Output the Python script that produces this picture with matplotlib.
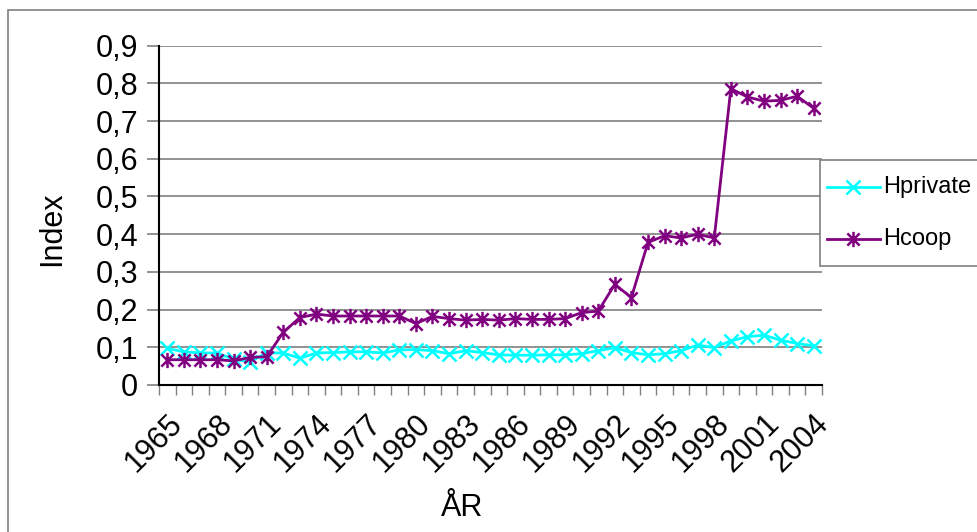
import matplotlib
matplotlib.use("Agg")
import matplotlib.pyplot as plt
from matplotlib.path import Path
from matplotlib.patches import Rectangle
from matplotlib.lines import Line2D
from matplotlib.ticker import FuncFormatter, FixedLocator
import numpy as np

plt.rcParams['font.family'] = ['Liberation Sans', 'DejaVu Sans']

years = list(range(1965, 2005))
hprivate = [0.097, 0.088, 0.085, 0.085, 0.068, 0.062, 0.085, 0.085, 0.071, 0.085,
            0.086, 0.088, 0.088, 0.085, 0.093, 0.094, 0.091, 0.083, 0.091, 0.086,
            0.080, 0.079, 0.079, 0.080, 0.080, 0.083, 0.091, 0.099, 0.086, 0.080,
            0.083, 0.091, 0.106, 0.099, 0.117, 0.128, 0.132, 0.119, 0.110, 0.104]
hcoop = [0.067, 0.067, 0.067, 0.067, 0.064, 0.073, 0.075, 0.140, 0.179, 0.188,
         0.183, 0.183, 0.183, 0.183, 0.183, 0.163, 0.182, 0.176, 0.172, 0.174,
         0.172, 0.176, 0.174, 0.174, 0.176, 0.192, 0.196, 0.267, 0.232, 0.378,
         0.396, 0.390, 0.400, 0.390, 0.786, 0.764, 0.753, 0.755, 0.766, 0.734]
series_names = ['Hprivate', 'Hcoop']
yticks = [0, 0.1, 0.2, 0.3, 0.4, 0.5, 0.6, 0.7, 0.8, 0.9]

W, H = 978, 532
fig = plt.figure(figsize=(W / 100, H / 100), dpi=100)
ax = fig.add_axes([159 / W, 1 - 385 / H, (822 - 159) / W, (385 - 45.7) / H])

star = Path([(-1, -1), (1, 1), (-1, 1), (1, -1), (0, -1.25), (0, 1.25)],
            [Path.MOVETO, Path.LINETO, Path.MOVETO, Path.LINETO, Path.MOVETO, Path.LINETO])

cyan, purple = '#00FFFF', '#800080'
styles = [dict(color=cyan, lw=2.0, marker='x', ms=10, mew=1.8),
          dict(color=purple, lw=2.0, marker=star, ms=11, mew=1.8, mfc='none')]

x = np.arange(len(years))
ax.plot(x, hprivate, label=series_names[0], **styles[0])
ax.plot(x, hcoop, label=series_names[1], **styles[1])

ax.set_xlim(-0.5, len(years) - 0.5)
ax.set_ylim(0, 0.9)
ax.set_yticks(yticks)
ax.yaxis.set_major_formatter(FuncFormatter(lambda v, p: ('%g' % round(v, 2)).replace('.', ',')))
ax.grid(axis='y', color='#7f7f7f', lw=1.2)
ax.set_axisbelow(True)
for s in ['top', 'right']:
    ax.spines[s].set_visible(False)
for s in ['left', 'bottom']:
    ax.spines[s].set_color('black')
    ax.spines[s].set_linewidth(1.5)
ax.tick_params(axis='y', direction='out', length=9, color='#7f7f7f', width=1.2,
               labelsize=22, pad=6)

# x ticks at category boundaries, labels every 3rd category at centers
ax.xaxis.set_major_locator(FixedLocator(np.arange(-0.5, len(years), 1.0)))
ax.tick_params(axis='x', which='major', direction='out', length=7, color='#7f7f7f',
               width=1.0, labelbottom=False)
for i in range(0, len(years), 3):
    ax.annotate(str(years[i]), xy=(i, 0), xycoords=('data', 'axes fraction'),
                xytext=(0, -17), textcoords='offset points', rotation=45,
                ha='right', va='top', rotation_mode='anchor', fontsize=22)

fig.text(462 / W, 1 - 508 / H, 'ÅR', ha='center', va='center', fontsize=22)
fig.text(52 / W, 1 - 229 / H, 'Index', ha='center', va='center', rotation=90, fontsize=22)

# legend drawn manually
fig.patches.append(Rectangle((820 / W, 1 - 266 / H), 200 / W, 106 / H,
                             transform=fig.transFigure, fill=True, facecolor='white',
                             edgecolor='#7f7f7f', lw=1.2, zorder=5))
for k, (yy, name) in enumerate(zip([187, 239], series_names)):
    st = dict(styles[k])
    mk = st.pop('marker')
    fig.lines.append(Line2D([827 / W, 880 / W], [1 - yy / H] * 2, transform=fig.transFigure,
                            zorder=6, **st))
    fig.lines.append(Line2D([853.5 / W], [1 - yy / H], transform=fig.transFigure,
                            marker=mk, zorder=7, **st))
    fig.text(883 / W, 1 - yy / H, name, ha='left', va='center', fontsize=17, zorder=8)

fig.patches.append(Rectangle((8 / W, -0.1), 1.5, 1 - 10 / H + 0.1,
                             transform=fig.transFigure, fill=False,
                             edgecolor='#7f7f7f', lw=1.2, zorder=-5))

fig.savefig('out.png', dpi=100)
